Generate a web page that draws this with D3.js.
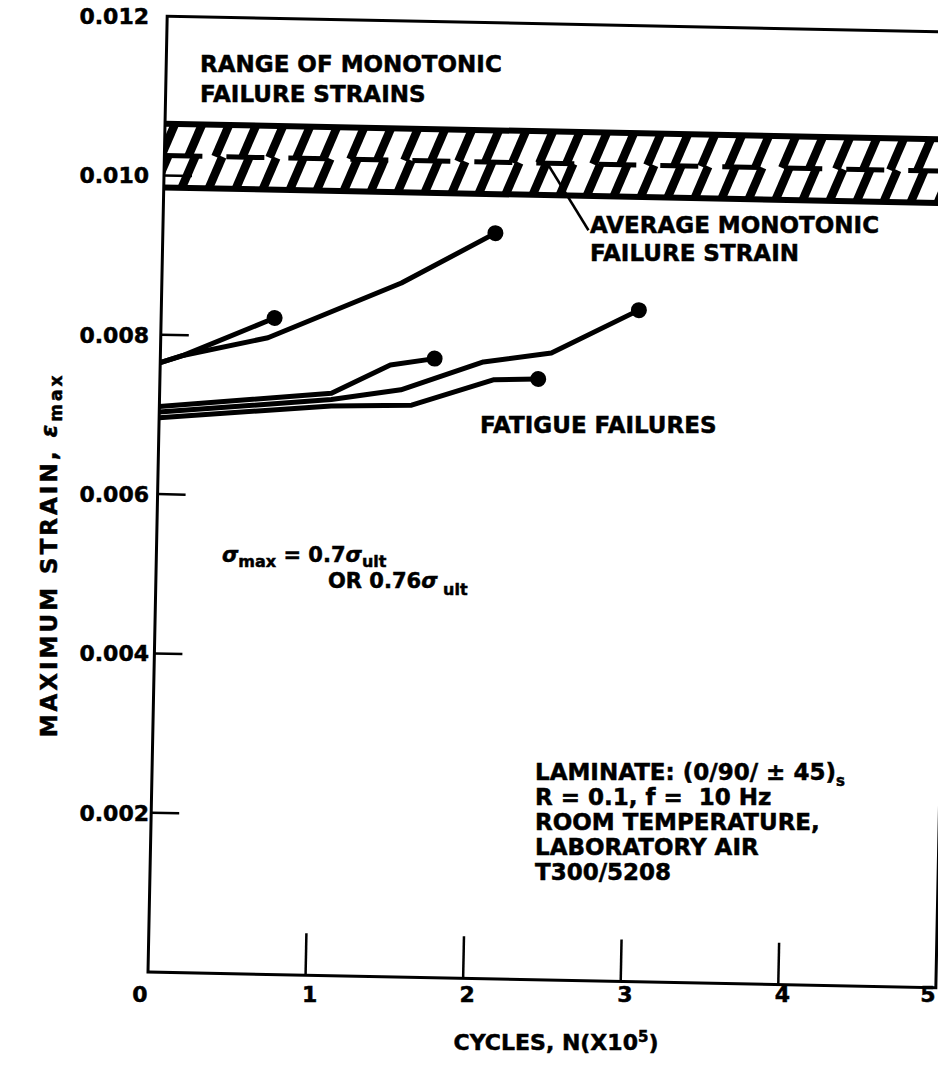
<!DOCTYPE html>
<html>
<head>
<meta charset="utf-8">
<script src="https://cdn.jsdelivr.net/npm/d3@7"></script>
<style>
  html, body { margin: 0; padding: 0; background: #fff; }
  svg { display: block; }
  text { font-family: "DejaVu Sans", sans-serif; font-weight: bold; fill: #000; stroke: #000; stroke-width: 0.5px; }
</style>
</head>
<body>
<div class="chart-wrapper"></div>
<script>
// ---- data ----
const yTicks = [0.002, 0.004, 0.006, 0.008, 0.010, 0.012]
const yTickLabels = ['0.002', '0.004', '0.006', '0.008', '0.010', '0.012']
const xTicks = [0, 1, 2, 3, 4, 5]
const xTickLabels = ['0', '1', '2', '3', '4', '5']

// range of monotonic failure strains
const bandLow = 0.00985
const bandHigh = 0.01065
const bandAvg = 0.01025

// fatigue failure curves [N (x1e5), max strain]
const upperLong = [[0, 0.00765], [0.15, 0.00775], [0.68, 0.00799], [1.52, 0.00871], [2.11, 0.00936]]
const upperShort = [[0, 0.00765], [0.15, 0.00775], [0.72, 0.00824]]
const lowerA = [[0, 0.0071], [1.09, 0.00731], [1.46, 0.00768], [1.74, 0.00777]]
const lowerB = [[0, 0.00703], [1.09, 0.00723], [1.53, 0.00737], [2.05, 0.00774], [2.48, 0.00787], [3.03, 0.00843]]
const lowerC = [[0, 0.00696], [1.09, 0.00715], [1.60, 0.00718], [2.12, 0.00752], [2.40, 0.00754]]
const curves = [upperLong, upperShort, lowerA, lowerB, lowerC]

// leader from average line to its label
const leader = [[2.43, bandAvg], [2.70, 0.00942]]

const width = 938
const height = 1076

let svg = d3.select('.chart-wrapper').append('svg')
.attr('width', width)
.attr('height', height)

let x = d3.scaleLinear().domain([0, 5]).range([148, 936])
let y = d3.scaleLinear().domain([0, 0.012]).range([972, 16])

// the scanned plot frame is slightly tilted
let plot = svg.append('g')
.attr('transform', 'rotate(1.15,' + x(0) + ',' + y(0) + ')')

let line = d3.line()
.x(d => x(d[0]))
.y(d => y(d[1]))

// ---- hatched band ----
let defs = svg.append('defs')
defs.append('clipPath')
.attr('id', 'band-clip')
.append('rect')
.attr('x', x(0))
.attr('y', y(bandHigh))
.attr('width', x(5) - x(0) + 30)
.attr('height', y(bandLow) - y(bandHigh))

let hatch = plot.append('g').attr('clip-path', 'url(#band-clip)')
let step = 27
let slant = 13
d3.range(x(0) - 30, x(5) + 30, step).forEach(px => {
	hatch.append('line')
	.attr('x1', px).attr('y1', y(bandAvg))
	.attr('x2', px + slant).attr('y2', y(bandHigh))
	.attr('stroke', '#000').attr('stroke-width', 8.5)

	hatch.append('line')
	.attr('x1', px - 6).attr('y1', y(bandLow))
	.attr('x2', px - 6 + slant).attr('y2', y(bandAvg))
	.attr('stroke', '#000').attr('stroke-width', 8.5)
})

plot.append('line')
.attr('x1', x(0)).attr('x2', x(5) + 30)
.attr('y1', y(bandAvg)).attr('y2', y(bandAvg))
.attr('stroke', '#000').attr('stroke-width', 5)
.attr('stroke-dasharray', '38,24')

;[bandHigh, bandLow].forEach(v => {
	plot.append('line')
	.attr('x1', x(0)).attr('x2', x(5) + 30)
	.attr('y1', y(v)).attr('y2', y(v))
	.attr('stroke', '#000').attr('stroke-width', 6)
})

plot.append('path')
.attr('d', line(leader))
.attr('fill', 'none')
.attr('stroke', '#000')
.attr('stroke-width', 2.5)

// ---- frame and ticks ----
plot.append('rect')
.attr('x', x(0))
.attr('y', y(0.012))
.attr('width', x(5) - x(0))
.attr('height', y(0) - y(0.012))
.attr('fill', 'none')
.attr('stroke', '#000')
.attr('stroke-width', 3)

plot.selectAll('.ytick')
.data(yTicks.filter(d => d < 0.012))
.enter()
.append('line')
.attr('class', 'ytick')
.attr('x1', x(0)).attr('x2', x(0) + 28)
.attr('y1', d => y(d)).attr('y2', d => y(d))
.attr('stroke', '#000').attr('stroke-width', 2.5)

plot.selectAll('.xtick')
.data(xTicks.filter(d => d > 0 && d < 5))
.enter()
.append('line')
.attr('class', 'xtick')
.attr('x1', d => x(d)).attr('x2', d => x(d))
.attr('y1', y(0)).attr('y2', y(0) - 42)
.attr('stroke', '#000').attr('stroke-width', 2.5)

// ---- curves ----
plot.selectAll('.curve')
.data(curves)
.enter()
.append('path')
.attr('class', 'curve')
.attr('d', line)
.attr('fill', 'none')
.attr('stroke', '#000')
.attr('stroke-width', 5)
.attr('stroke-linejoin', 'round')

plot.selectAll('.failure')
.data(curves.map(c => c[c.length - 1]))
.enter()
.append('circle')
.attr('class', 'failure')
.attr('cx', d => x(d[0]))
.attr('cy', d => y(d[1]))
.attr('r', 8)
.attr('fill', '#000')

// ---- tick labels (not tilted in the scan) ----
svg.selectAll('.ylabel')
.data(yTicks)
.enter()
.append('text')
.attr('class', 'ylabel')
.attr('x', 149)
.attr('y', d => y(d))
.attr('dy', '0.36em')
.attr('text-anchor', 'end')
.style('font-size', '22px')
.text((d, i) => yTickLabels[i])

svg.selectAll('.xlabel')
.data(xTicks)
.enter()
.append('text')
.attr('class', 'xlabel')
.attr('x', d => (d === 0 || d === 5) ? x(d) - 8 : x(d) + 4)
.attr('y', 1002)
.attr('text-anchor', 'middle')
.style('font-size', '22px')
.text((d, i) => xTickLabels[i])

// ---- axis titles ----
let xTitle = svg.append('text')
.attr('x', 556)
.attr('y', 1050)
.attr('text-anchor', 'middle')
.style('font-size', '22px')
xTitle.append('tspan').text('CYCLES, N(X10')
xTitle.append('tspan').attr('dy', -8).style('font-size', '15px').text('5')
xTitle.append('tspan').attr('dy', 8).text(')')

let yTitle = svg.append('text')
.attr('transform', 'translate(57,555) rotate(-90)')
.attr('text-anchor', 'middle')
.style('font-size', '23px')
.style('letter-spacing', '3px')
yTitle.append('tspan').text('MAXIMUM STRAIN, ')
yTitle.append('tspan').style('font-style', 'italic').text('ε')
yTitle.append('tspan').attr('dy', 5).style('font-size', '17px').text('max')

// ---- annotations ----
function block(lines, x0, y0, lh) {
	let t = svg.append('text')
	.attr('x', x0)
	.attr('y', y0)
	.style('font-size', '23px')
	lines.forEach((l, i) => {
		t.append('tspan')
		.attr('x', x0)
		.attr('y', y0 + i * lh)
		.text(l)
	})
	return t
}

block(['RANGE OF MONOTONIC', 'FAILURE STRAINS'], 200, 72, 30)
block(['AVERAGE MONOTONIC', 'FAILURE STRAIN'], 590, 233, 28)
block(['FATIGUE FAILURES'], 480, 433, 28)

block(['R = 0.1, f =\u00a0 10 Hz', 'ROOM TEMPERATURE,', 'LABORATORY AIR', 'T300/5208'], 535, 805, 25)
let lam0 = svg.append('text')
.attr('x', 535)
.attr('y', 780)
.style('font-size', '23px')
lam0.append('tspan').text('LAMINATE: (0/90/ ± 45)')
lam0.append('tspan').attr('dy', 6).style('font-size', '15px').text('s')

let s1 = svg.append('text')
.attr('x', 222)
.attr('y', 562)
.style('font-size', '21px')
s1.append('tspan').style('font-style', 'italic').text('σ')
s1.append('tspan').attr('dy', 5).style('font-size', '16px').text('max')
s1.append('tspan').attr('dy', -5).text(' =  0.7')
s1.append('tspan').style('font-style', 'italic').text('σ')
s1.append('tspan').attr('dy', 5).style('font-size', '16px').text('ult')

let s2 = svg.append('text')
.attr('x', 328)
.attr('y', 588)
.style('font-size', '21px')
s2.append('tspan').text('OR 0.76')
s2.append('tspan').style('font-style', 'italic').text('σ')
s2.append('tspan').attr('dy', 7).style('font-size', '16px').text(' ult')
</script>
</body>
</html>
